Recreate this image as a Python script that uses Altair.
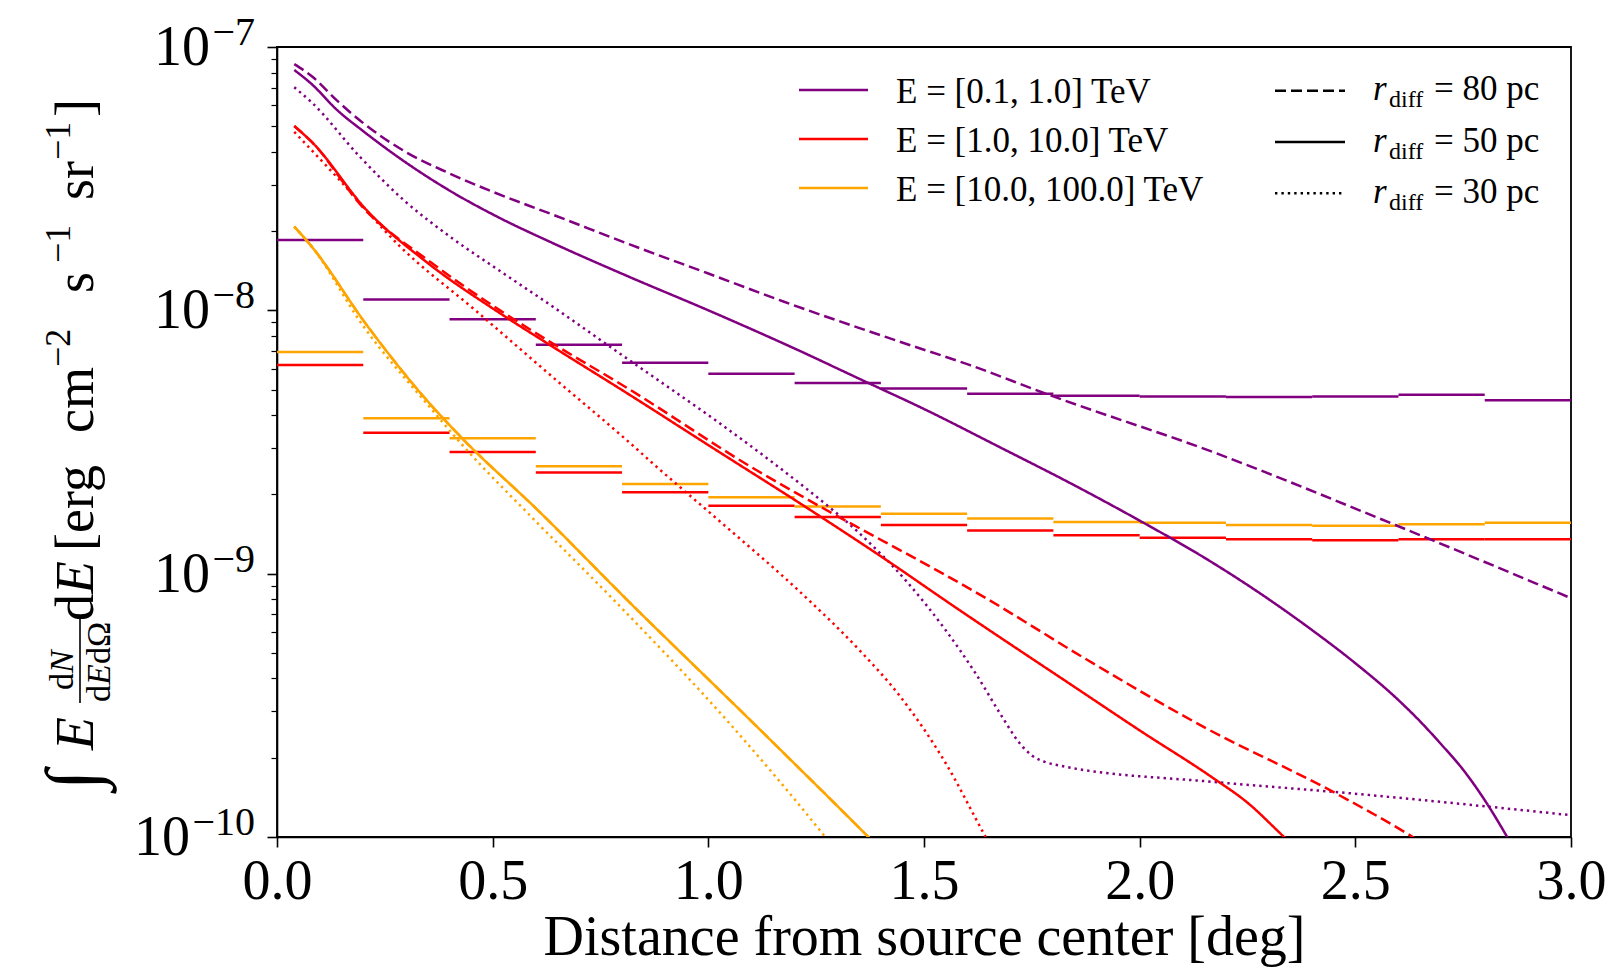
import altair as alt
import pandas as pd

FONT = "Liberation Serif"

# ---------------- data ----------------
energies = ["E = [0.1, 1.0] TeV", "E = [1.0, 10.0] TeV", "E = [10.0, 100.0] TeV"]
colors = ["#800080", "#ff0000", "#ffa500"]
radii = ["80 pc", "50 pc", "30 pc"]

bin_lo = [0.0, 0.2, 0.4, 0.6, 0.8, 1.0, 1.2, 1.4, 1.6, 1.8, 2.0, 2.2, 2.4, 2.6, 2.8]
bin_hi = [0.2, 0.4, 0.6, 0.8, 1.0, 1.2, 1.4, 1.6, 1.8, 2.0, 2.2, 2.4, 2.6, 2.8, 3.0]
step_e1 = [1.85e-8, 1.10e-8, 9.25e-9, 7.4e-9, 6.33e-9, 5.74e-9, 5.3e-9, 5.05e-9,
           4.82e-9, 4.74e-9, 4.71e-9, 4.69e-9, 4.71e-9, 4.78e-9, 4.56e-9]
step_e2 = [6.2e-9, 3.43e-9, 2.9e-9, 2.42e-9, 2.04e-9, 1.81e-9, 1.64e-9, 1.53e-9,
           1.46e-9, 1.40e-9, 1.37e-9, 1.35e-9, 1.34e-9, 1.35e-9, 1.35e-9]
step_e3 = [6.95e-9, 3.89e-9, 3.27e-9, 2.56e-9, 2.19e-9, 1.95e-9, 1.80e-9, 1.69e-9,
           1.62e-9, 1.57e-9, 1.56e-9, 1.53e-9, 1.52e-9, 1.54e-9, 1.56e-9]

# E = [0.1, 1.0] TeV
x_e1_80 = [0.04, 0.08, 0.14, 0.2, 0.3, 0.4, 0.5, 0.633, 0.85, 1.0, 1.174, 1.444, 1.607, 1.786, 2.169,
           2.593, 3.0]
y_e1_80 = [8.61e-8, 7.76e-8, 6.24e-8, 5.14e-8, 3.98e-8, 3.31e-8, 2.82e-8, 2.33e-8, 1.70e-8, 1.38e-8,
           1.08e-8, 7.60e-9, 6.19e-9, 4.80e-9, 2.90e-9, 1.53e-9, 8.07e-10]
x_e1_50 = [0.04, 0.08, 0.14, 0.2, 0.3, 0.4, 0.517, 0.633, 0.812, 1.0, 1.2, 1.36, 1.5, 1.676, 1.85,
           2.003, 2.15, 2.3, 2.4, 2.5, 2.6, 2.65, 2.7, 2.75, 2.8, 2.852, 2.9]
y_e1_50 = [8.18e-8, 7.24e-8, 5.75e-8, 4.79e-8, 3.63e-8, 2.85e-8, 2.24e-8, 1.82e-8, 1.35e-8, 1.0e-8,
           7.16e-9, 5.40e-9, 4.22e-9, 3.02e-9, 2.16e-9, 1.58e-9, 1.15e-9, 7.98e-10, 6.10e-10,
           4.57e-10, 3.31e-10, 2.75e-10, 2.24e-10, 1.80e-10, 1.38e-10, 1.0e-10, 7.2e-11]
x_e1_30 = [0.04, 0.08, 0.192, 0.294, 0.4, 0.517, 0.633, 0.791, 0.888, 1.019, 1.143, 1.226, 1.349, 1.46,
           1.548, 1.62, 1.68, 1.72, 1.75, 1.78, 1.82, 2.169, 2.479, 3.0]
y_e1_30 = [7.03e-8, 6.17e-8, 3.83e-8, 2.62e-8, 1.91e-8, 1.41e-8, 1.05e-8, 6.92e-9, 5.37e-9, 3.80e-9,
           2.69e-9, 2.11e-9, 1.43e-9, 9.33e-10, 6.17e-10, 4.17e-10, 2.88e-10, 2.29e-10, 2.04e-10,
           1.93e-10, 1.86e-10, 1.62e-10, 1.47e-10, 1.21e-10]

# E = [1.0, 10.0] TeV
x_e2_80 = [0.04, 0.08, 0.2, 0.35, 0.517, 0.633, 0.812, 1.112, 1.226, 1.651, 1.879, 2.148, 2.453, 2.633, 2.7]
y_e2_80 = [5.01e-8, 4.37e-8, 2.45e-8, 1.55e-8, 1.0e-8, 7.59e-9, 5.07e-9, 2.47e-9, 1.93e-9, 7.94e-10,
           4.70e-10, 2.62e-10, 1.47e-10, 1.0e-10, 8.5e-11]
x_e2_50 = [0.04, 0.08, 0.208, 0.35, 0.517, 0.633, 0.812, 1.019, 1.226, 1.433, 1.548, 1.858, 2.0, 2.169,
           2.25, 2.335, 2.4]
y_e2_50 = [5.01e-8, 4.37e-8, 2.40e-8, 1.51e-8, 9.75e-9, 7.38e-9, 4.84e-9, 2.94e-9, 1.79e-9, 1.07e-9,
           7.94e-10, 3.63e-10, 2.54e-10, 1.68e-10, 1.35e-10, 1.0e-10, 8.0e-11]
x_e2_30 = [0.04, 0.131, 0.285, 0.46, 0.633, 0.812, 0.888, 1.019, 1.226, 1.35, 1.444, 1.55, 1.643, 1.68]
y_e2_30 = [4.76e-8, 3.31e-8, 1.75e-8, 1.0e-8, 5.69e-9, 3.20e-9, 2.48e-9, 1.62e-9, 8.13e-10, 5.13e-10,
           3.43e-10, 1.91e-10, 1.0e-10, 7.8e-11]

# E = [10.0, 100.0] TeV
x_e3_80 = [0.04, 0.08, 0.208, 0.347, 0.429, 0.605, 0.812, 1.1, 1.371, 1.42]
y_e3_80 = [2.08e-8, 1.75e-8, 8.79e-9, 4.56e-9, 3.27e-9, 1.74e-9, 7.94e-10, 2.75e-10, 1.0e-10, 8.3e-11]
x_e3_50 = [0.04, 0.08, 0.208, 0.347, 0.429, 0.605, 0.812, 1.1, 1.371, 1.42]
y_e3_50 = [2.08e-8, 1.75e-8, 8.79e-9, 4.56e-9, 3.27e-9, 1.74e-9, 7.94e-10, 2.75e-10, 1.0e-10, 8.3e-11]
x_e3_30 = [0.04, 0.08, 0.2, 0.35, 0.429, 0.6, 0.781, 1.05, 1.271, 1.31]
y_e3_30 = [2.08e-8, 1.75e-8, 8.71e-9, 4.37e-9, 3.09e-9, 1.58e-9, 7.94e-10, 2.69e-10, 1.0e-10, 8.3e-11]

y_major = [1e-10, 1e-9, 1e-8, 1e-7]
y_major_exp = ["−10", "−9", "−8", "−7"]
y_minor = [m * d for d in (1e-10, 1e-9, 1e-8) for m in range(2, 10)]
x_ticks = [0.0, 0.5, 1.0, 1.5, 2.0, 2.5, 3.0]
x_title = "Distance from source center [deg]"

# y-axis title pieces: text, italic?, role
ytitle_text = ["∫", "E", "d", "N", "d", "E", "d", "Ω", "d", "E", "[erg", "cm", "−2", "s", "−1", "sr", "−1", "]"]
ytitle_ital = [False, True, False, True, False, True, False, False, False, True, False, False, False,
               False, False, False, False, False]
ytitle_role = ["big", "main", "num", "num", "den", "den", "den", "den", "main", "main", "main", "main",
               "sup", "main", "sup", "main", "sup", "main"]

# ---------------- tables ----------------
curve_sets = [
    (0, "80 pc", x_e1_80, y_e1_80), (0, "50 pc", x_e1_50, y_e1_50), (0, "30 pc", x_e1_30, y_e1_30),
    (1, "80 pc", x_e2_80, y_e2_80), (1, "50 pc", x_e2_50, y_e2_50), (1, "30 pc", x_e2_30, y_e2_30),
    (2, "80 pc", x_e3_80, y_e3_80), (2, "50 pc", x_e3_50, y_e3_50), (2, "30 pc", x_e3_30, y_e3_30),
]
rows = []
for k, (ei, r, xs, ys) in enumerate(curve_sets):
    for i, (xv, yv) in enumerate(zip(xs, ys)):
        rows.append({"series": k, "energy": energies[ei], "radius": r, "x": xv, "y": yv, "i": i})
curves = pd.DataFrame(rows)

srows = []
for ei, vals in enumerate([step_e1, step_e2, step_e3]):
    for lo, hi, v in zip(bin_lo, bin_hi, vals):
        srows.append({"energy": energies[ei], "lo": lo, "hi": hi, "v": v})
steps = pd.DataFrame(srows)

# ---------------- scales / axes ----------------
LW = 2.5
xscale = alt.Scale(domain=[0, 3], nice=False, zero=False)
yscale = alt.Scale(type="log", domain=[1e-10, 1e-7], nice=False)
cscale = alt.Scale(domain=energies, range=colors)
dashes = [[11, 5], [1, 0], [2.4, 4]]
dscale = alt.Scale(domain=radii, range=dashes)

x_axis = alt.Axis(values=x_ticks, format=".1f", labelFontSize=56, labelFont=FONT,
                  labelColor="black", tickColor="black", tickSize=10, tickWidth=1.6,
                  domainColor="black", domainWidth=1.6, labelPadding=51,
                  labelBaseline="alphabetic", labelFlush=False, labelOverlap=False,
                  grid=False, title=x_title,
                  titleFont=FONT, titleFontSize=56, titleFontWeight="normal",
                  titleColor="black", titleBaseline="alphabetic", titleY=117)

y_axis = alt.Axis(values=y_major, labels=False, tickColor="black", tickSize=10, tickWidth=1.6,
                  domainColor="black", domainWidth=1.6, grid=False, orient="left", title=None)

y_axis_minor = alt.Axis(values=y_minor, labels=False, tickColor="black", tickSize=6,
                        tickWidth=1.2, domain=False, grid=False, title=None, orient="left")

step_layer = alt.Chart(steps).mark_rule(strokeWidth=LW, clip=True).encode(
    x=alt.X("lo:Q", scale=xscale, axis=x_axis),
    x2="hi:Q",
    y=alt.Y("v:Q", scale=yscale, axis=y_axis_minor),
    color=alt.Color("energy:N", scale=cscale, legend=None),
)

line_layer = alt.Chart(curves).mark_line(strokeWidth=LW, clip=True, interpolate="monotone").encode(
    x=alt.X("x:Q", scale=xscale, axis=x_axis),
    y=alt.Y("y:Q", scale=yscale, axis=y_axis),
    color=alt.Color("energy:N", scale=cscale, legend=None),
    strokeDash=alt.StrokeDash("radius:N", scale=dscale, legend=None),
    detail="series:N",
    order="i:Q",
)

# y tick labels 10^n (placed through the y scale)
ytl = pd.DataFrame({"v": y_major, "exp": y_major_exp})
ytl["tx"] = -22 - (23 + 20 * (ytl["exp"].str.len() - 1)) - 2
ytl["ten"] = "10"
ytl_ten = alt.Chart(ytl).mark_text(font=FONT, fontSize=56, align="right", baseline="alphabetic",
                                   dy=18, color="black").encode(
    x=alt.X("tx:Q", scale=None), y=alt.Y("v:Q", scale=yscale, axis=None), text="ten:N")
ytl_exp = alt.Chart(ytl).mark_text(font=FONT, fontSize=40, align="right", baseline="alphabetic",
                                   dy=-2, color="black").encode(
    x=alt.value(-22), y=alt.Y("v:Q", scale=yscale, axis=None), text="exp:N")

# ---------------- y title (rotated pieces, pixel space) ----------------
role_size = {"big": 74, "main": 54, "num": 34, "den": 34, "sup": 36}
role_base = {"big": 97 - 277, "main": 93 - 277, "num": 73 - 277, "den": 110 - 277, "sup": 70 - 277}
starts = [790, 750, 690, 673, 702, 685, 664, 647, 621, 594, 551, 433, 367, 293, 263, 200, 160, 117]
yt = pd.DataFrame({"text": ytitle_text, "ital": ytitle_ital, "role": ytitle_role})
yt["size"] = yt["role"].map(role_size)
yt["bx"] = yt["role"].map(role_base)
yt["sy"] = [s - 47 for s in starts]
yt_roman = alt.Chart(yt).transform_filter("!datum.ital").mark_text(
    font=FONT, angle=270, align="left", baseline="alphabetic", color="black").encode(
    x=alt.X("bx:Q", scale=None), y=alt.Y("sy:Q", scale=None), text="text:N",
    size=alt.Size("size:Q", scale=None, legend=None))
yt_ital = alt.Chart(yt).transform_filter("datum.ital").mark_text(
    font=FONT, fontStyle="italic", angle=270, align="left", baseline="alphabetic",
    color="black").encode(
    x=alt.X("bx:Q", scale=None), y=alt.Y("sy:Q", scale=None), text="text:N",
    size=alt.Size("size:Q", scale=None, legend=None))
frac_bar = alt.Chart(pd.DataFrame({"a": [0]})).mark_rule(color="black", strokeWidth=1.6).encode(
    x=alt.value(80 - 277), y=alt.value(617 - 47), y2=alt.value(703 - 47))

# ---------------- legend (pixel space) ----------------
leg_e = pd.DataFrame({"label": energies, "color": colors, "row": [0, 1, 2]})
leg_e["y"] = 43 + 49 * leg_e["row"]
leg_e["ty"] = leg_e["y"] + 13
leg_e["x0"] = 522
leg_e["x1"] = 591
leg_e["tx"] = 619

e_sym = alt.Chart(leg_e).mark_rule(strokeWidth=LW).encode(
    x=alt.X("x0:Q", scale=None), x2="x1:Q", y=alt.Y("y:Q", scale=None),
    color=alt.Color("color:N", scale=None, legend=None))
e_txt = alt.Chart(leg_e).mark_text(font=FONT, fontSize=35, align="left", baseline="alphabetic",
                                   color="black").encode(
    x=alt.X("tx:Q", scale=None), y=alt.Y("ty:Q", scale=None), text="label:N")

leg_r = pd.DataFrame({"value": radii, "row": [0, 1, 2]})
leg_r["y"] = 43.7 + 51.3 * leg_r["row"]
leg_r["by"] = leg_r["y"] + 9.5
leg_r["sy"] = leg_r["y"] + 16.5
leg_r["x0"] = 998
leg_r["x1"] = 1068
leg_r["rx"] = 1096
leg_r["dx"] = 1112
leg_r["ex"] = 1157
leg_r["rest"] = "= " + leg_r["value"]
leg_r["r"] = "r"
leg_r["sub"] = "diff"

r_layers = []
for name, dash in zip(radii, dashes):
    r_layers.append(
        alt.Chart(leg_r).transform_filter(alt.datum.value == name)
        .mark_rule(strokeWidth=LW, color="black", strokeDash=dash)
        .encode(x=alt.X("x0:Q", scale=None), x2="x1:Q", y=alt.Y("y:Q", scale=None)))
r_txt1 = alt.Chart(leg_r).mark_text(font=FONT, fontSize=35, fontStyle="italic", align="left",
                                    baseline="alphabetic", color="black").encode(
    x=alt.X("rx:Q", scale=None), y=alt.Y("by:Q", scale=None), text="r:N")
r_txt2 = alt.Chart(leg_r).mark_text(font=FONT, fontSize=24, align="left",
                                    baseline="alphabetic", color="black").encode(
    x=alt.X("dx:Q", scale=None), y=alt.Y("sy:Q", scale=None), text="sub:N")
r_txt3 = alt.Chart(leg_r).mark_text(font=FONT, fontSize=35, align="left",
                                    baseline="alphabetic", color="black").encode(
    x=alt.X("ex:Q", scale=None), y=alt.Y("by:Q", scale=None), text="rest:N")

chart = alt.layer(
    step_layer, line_layer, ytl_ten, ytl_exp, yt_roman, yt_ital, frac_bar,
    e_sym, e_txt, *r_layers, r_txt1, r_txt2, r_txt3
).resolve_axis(y="independent").properties(
    width=1294, height=790,
    autosize=alt.AutoSizeParams(type="none"),
    padding={"left": 269, "top": 39, "right": 36, "bottom": 130},
).configure(font=FONT).configure_view(stroke="black", strokeWidth=1.8)

chart.save("out.html", embed_options={"renderer": "svg", "actions": False})
